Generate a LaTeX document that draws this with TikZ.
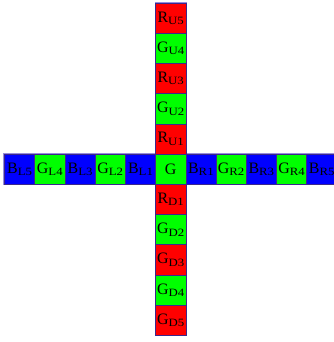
\documentclass[tikz,border=0pt]{standalone}
\usepackage{fontspec}
\usepackage{graphicx}
\setmainfont{Liberation Serif}
\definecolor{cellred}{RGB}{255,0,0}
\definecolor{cellgreen}{RGB}{0,255,0}
\definecolor{cellblue}{RGB}{0,0,255}
\definecolor{cellline}{RGB}{60,40,140}
\definecolor{frameline}{RGB}{150,140,220}
% letter with subscript for one cell
\newcommand{\cellname}[2]{#1\raisebox{-0.35ex}{\scalebox{1.15}[1]{\fontsize{10.5}{10.5}\selectfont #2}}}
\begin{document}
\begin{tikzpicture}[scale=1.0,
  cellbox/.style={draw=cellline,line width=0.5pt,minimum size=1cm,inner sep=0pt,outer sep=0pt,text=black,font=\fontsize{15}{15}\selectfont},
  rcell/.style={cellbox,fill=cellred},
  gcell/.style={cellbox,fill=cellgreen},
  bcell/.style={cellbox,fill=cellblue},
  frame/.style={draw=frameline,line width=2pt}]
\useasboundingbox (-5.65,-5.72) rectangle (5.38,5.6);

% outer frames, below the cells
\draw[frame] (-5.5,-0.5) rectangle (5.5,0.5);
\draw[frame] (-0.5,-5.5) rectangle (0.5,5.5);

% horizontal row
\node[bcell] (bl5) at (-5,0) {\cellname{B}{L5}};
\node[gcell] (gl4) at (-4,0) {\cellname{G}{L4}};
\node[bcell] (bl3) at (-3,0) {\cellname{B}{L3}};
\node[gcell] (gl2) at (-2,0) {\cellname{G}{L2}};
\node[bcell] (bl1) at (-1,0) {\cellname{B}{L1}};
\node[bcell] (br1) at (1,0) {\cellname{B}{R1}};
\node[gcell] (gr2) at (2,0) {\cellname{G}{R2}};
\node[bcell] (br3) at (3,0) {\cellname{B}{R3}};
\node[gcell] (gr4) at (4,0) {\cellname{G}{R4}};
\node[bcell] (br5) at (5,0) {\cellname{B}{R5}};

% vertical column
\node[rcell] (ru5) at (0,5) {\cellname{R}{U5}};
\node[gcell] (gu4) at (0,4) {\cellname{G}{U4}};
\node[rcell] (ru3) at (0,3) {\cellname{R}{U3}};
\node[gcell] (gu2) at (0,2) {\cellname{G}{U2}};
\node[rcell] (ru1) at (0,1) {\cellname{R}{U1}};
\node[gcell] (g) at (0,0) {G};
\node[rcell] (rd1) at (0,-1) {\cellname{R}{D1}};
\node[gcell] (gd2) at (0,-2) {\cellname{G}{D2}};
\node[rcell] (gd3) at (0,-3) {\cellname{G}{D3}};
\node[gcell] (gd4) at (0,-4) {\cellname{G}{D4}};
\node[rcell] (gd5) at (0,-5) {\cellname{G}{D5}};
\end{tikzpicture}
\end{document}
